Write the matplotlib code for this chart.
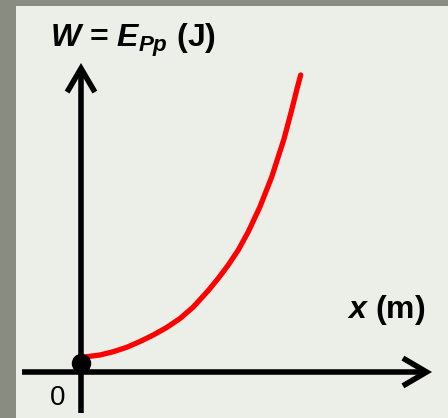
import matplotlib
matplotlib.use("Agg")
import matplotlib.pyplot as plt

plt.rcParams['mathtext.fontset'] = 'custom'
plt.rcParams['mathtext.it'] = 'Liberation Sans:bold:italic'
plt.rcParams['mathtext.rm'] = 'Liberation Sans:bold'
plt.rcParams['mathtext.bf'] = 'Liberation Sans:bold'

# curve data (x and W in arbitrary units)
x_vals = [0, 5.7, 19, 32.3, 45.7, 59, 72.3, 85.7, 99, 112.3, 127.3, 137.3,
          147.3, 157.3, 167.3, 179, 190.7, 203, 210.7, 215.7, 219.7]
w_vals = [14.5, 15.3, 17, 20.3, 24.7, 30.5, 37, 44.5, 53.5, 65, 81.5, 93.7,
          107, 122, 140.3, 165.3, 195, 233, 262, 282, 297]

y_label = r'$W$ = $E_{Pp}$ (J)'
x_label = r'$x$ (m)'
origin_label = '0'

fig = plt.figure(figsize=(4.48, 4.18), dpi=100)
fig.patch.set_facecolor('#898c80')

bg = fig.add_axes([16/448, 0, 1 - 16/448, 1 - 6/418], zorder=0)
bg.set_facecolor('#eceee8')
bg.set_xticks([]); bg.set_yticks([])
for s in bg.spines.values():
    s.set_visible(False)

ax = fig.add_axes([0, 0, 1, 1], zorder=1)
ax.set_facecolor('none')
ax.set_xlim(-81, 367)
ax.set_ylim(-46, 372)
ax.axis('off')

arrow_kw = dict(arrowstyle='->,head_length=0.85,head_width=0.5', lw=4.0,
                color='black', shrinkA=0, shrinkB=0, mutation_scale=20,
                joinstyle='miter', capstyle='butt')
ax.annotate('', xy=(0, 309), xytext=(0, -41), arrowprops=arrow_kw)
ax.annotate('', xy=(351, 0), xytext=(-59, 0), arrowprops=arrow_kw)

ax.plot(x_vals, w_vals, color='#ff0000', lw=3.8, solid_capstyle='round',
        solid_joinstyle='round', zorder=3)
ax.plot([0], [9], 'o', color='black', markersize=13, zorder=4)

ax.text(-31, 325, y_label, fontsize=23, fontweight='bold', family='Liberation Sans',
        ha='left', va='baseline')
ax.text(266, 54, x_label, fontsize=23, fontweight='bold', family='Liberation Sans',
        ha='left', va='baseline')
ax.text(-23, -26, origin_label, fontsize=20, family='Liberation Sans',
        ha='center', va='center')

fig.savefig('out.png', dpi=100, facecolor=fig.get_facecolor())
